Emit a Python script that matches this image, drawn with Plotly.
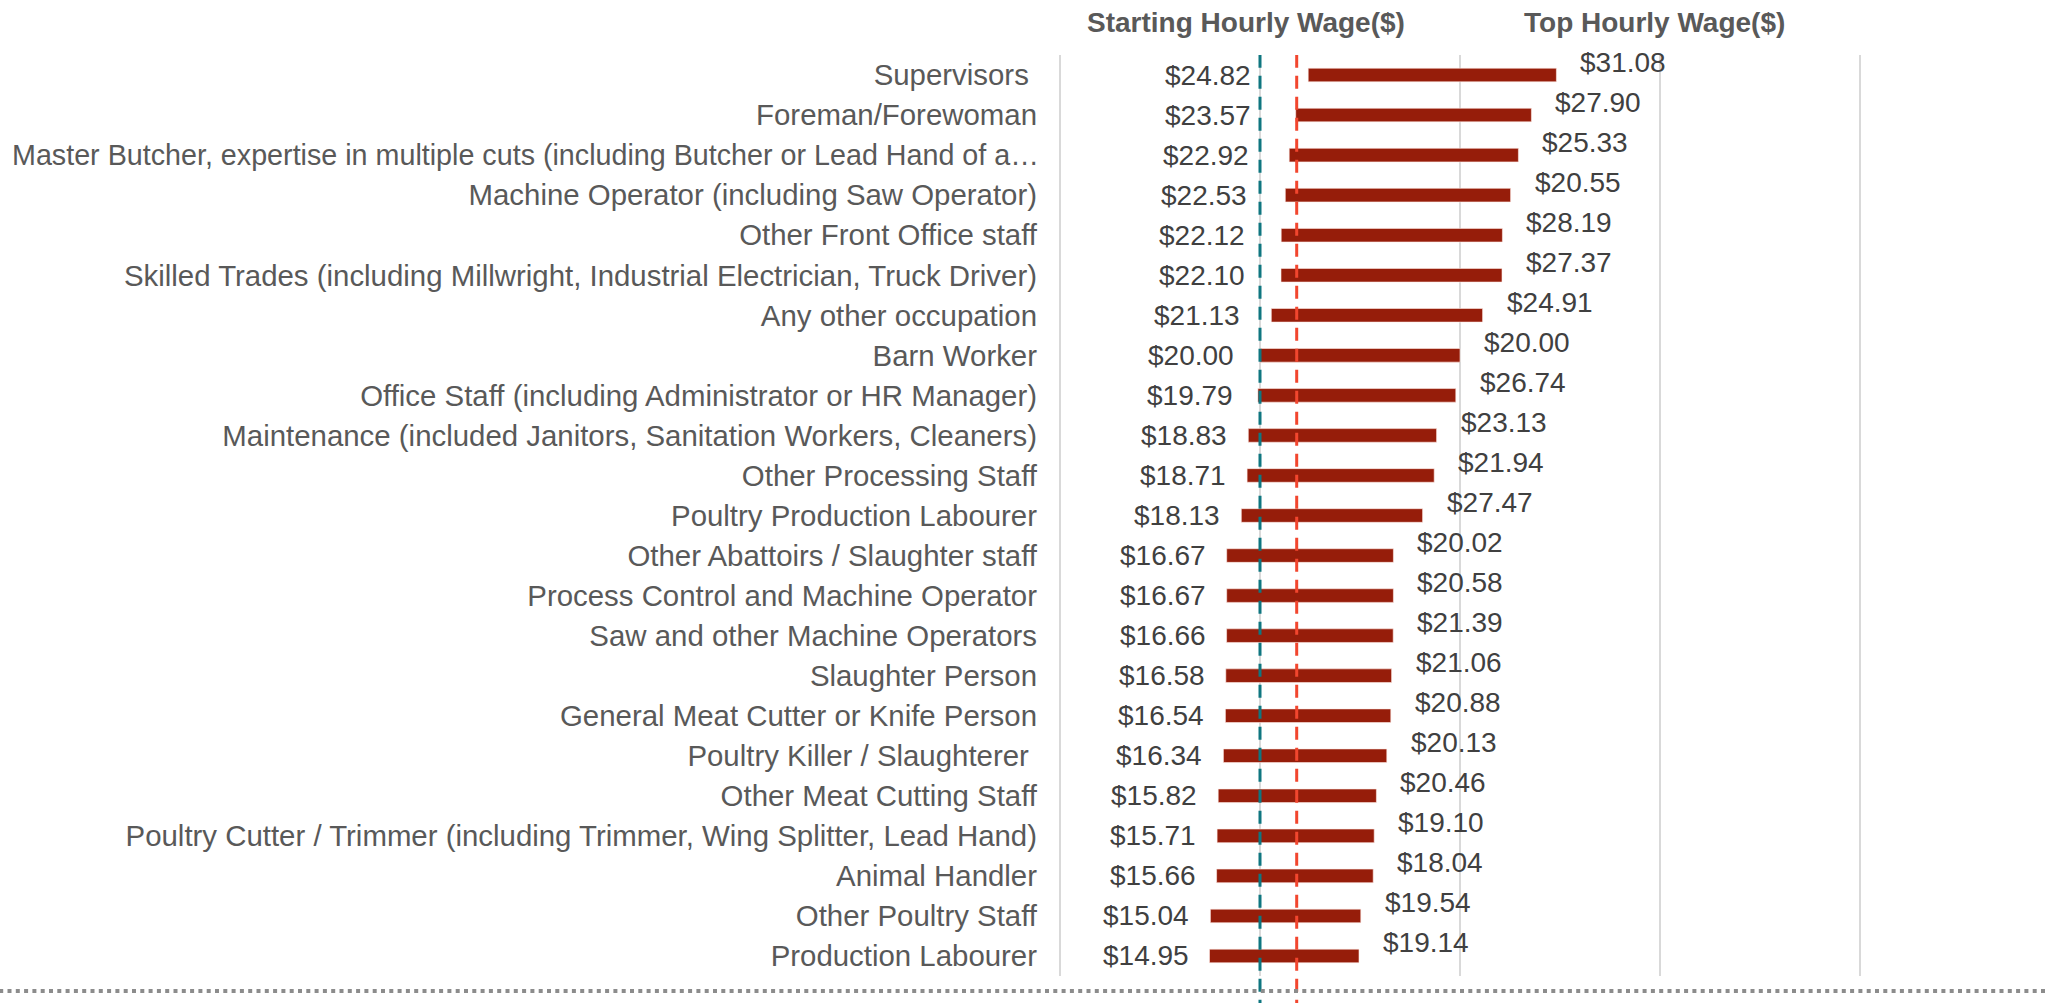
import plotly.graph_objects as go

# Occupations, top to bottom
occupations = [
    "Supervisors\u00a0",
    "Foreman/Forewoman",
    "Master Butcher, expertise in multiple cuts (including Butcher or Lead Hand of a\u2026",
    "Machine Operator (including Saw Operator)",
    "Other Front Office staff",
    "Skilled Trades (including Millwright, Industrial Electrician, Truck Driver)",
    "Any other occupation",
    "Barn Worker",
    "Office Staff (including Administrator or HR Manager)",
    "Maintenance (included Janitors, Sanitation Workers, Cleaners)",
    "Other Processing Staff",
    "Poultry Production Labourer",
    "Other Abattoirs / Slaughter staff",
    "Process Control and Machine Operator",
    "Saw and other Machine Operators",
    "Slaughter Person",
    "General Meat Cutter or Knife Person",
    "Poultry Killer / Slaughterer\u00a0",
    "Other Meat Cutting Staff",
    "Poultry Cutter / Trimmer (including Trimmer, Wing Splitter, Lead Hand)",
    "Animal Handler",
    "Other Poultry Staff",
    "Production Labourer",
]

starting_wage = [24.82, 23.57, 22.92, 22.53, 22.12, 22.10, 21.13, 20.00, 19.79, 18.83,
                 18.71, 18.13, 16.67, 16.67, 16.66, 16.58, 16.54, 16.34, 15.82, 15.71,
                 15.66, 15.04, 14.95]

top_wage = [31.08, 27.90, 25.33, 20.55, 28.19, 27.37, 24.91, 20.00, 26.74, 23.13,
            21.94, 27.47, 20.02, 20.58, 21.39, 21.06, 20.88, 20.13, 20.46, 19.10,
            18.04, 19.54, 19.14]

# Reference wage levels drawn as dashed verticals
starting_reference = 20.0
top_reference = 23.67

BAR_RED = "#961d0a"
TEXT_GREY = "#595959"
VALUE_GREY = "#404040"
FONT = "Liberation Sans, Arial, sans-serif"

# The over-long (truncated) occupation name is written as a free label so it
# can overhang the other right-aligned names slightly, as the truncated text does.
LONG_NAME = occupations[2]
tick_text = ["" if o == LONG_NAME else o for o in occupations]

fig = go.Figure()

# Each bar begins at the starting wage and spans the starting wage in length
fig.add_trace(go.Bar(
    y=occupations,
    x=starting_wage,
    base=starting_wage,
    orientation="h",
    marker=dict(color=BAR_RED, line=dict(color="rgba(255,235,230,0.6)", width=1)),
    hoverinfo="skip",
    showlegend=False,
))

annotations = []


def start_label_x(w):
    # starting-wage labels sit left of the bar, held back from the reference line
    return min(w - 1.9 - 0.5 * max(0.0, w - 19.0), 19.3)


for occ, s, t in zip(occupations, starting_wage, top_wage):
    annotations.append(dict(
        x=start_label_x(s), y=occ, xref="x", yref="y",
        text=f"${s:.2f}", showarrow=False, xanchor="right", yanchor="middle",
        font=dict(family=FONT, size=28, color=VALUE_GREY),
    ))
    annotations.append(dict(
        x=s + s, y=occ, xref="x", yref="y",
        text=f"${t:.2f}", showarrow=False, xanchor="left", yanchor="middle",
        xshift=22, yshift=13,
        font=dict(family=FONT, size=28, color=VALUE_GREY),
    ))

annotations.append(dict(
    x=0, y=LONG_NAME, xref="x", yref="y", text=LONG_NAME,
    showarrow=False, xanchor="right", yanchor="middle", xshift=-19,
    font=dict(family=FONT, size=28.7, color=TEXT_GREY),
))

# Column headers
annotations.append(dict(
    x=18.55, y=1.0358, xref="x", yref="paper", text="<b>Starting Hourly Wage($)</b>",
    showarrow=False, xanchor="center", yanchor="middle",
    font=dict(family=FONT, size=28, color=TEXT_GREY),
))
annotations.append(dict(
    x=59.4, y=1.0358, xref="x", yref="paper", text="<b>Top Hourly Wage($)</b>",
    showarrow=False, xanchor="center", yanchor="middle",
    font=dict(family=FONT, size=28, color=TEXT_GREY),
))

shapes = [
    dict(type="line", xref="x", yref="paper",
         x0=starting_reference, x1=starting_reference, y0=-0.04, y1=1.0,
         line=dict(color="#0f7680", width=3, dash="13px,8px")),
    dict(type="line", xref="x", yref="paper",
         x0=top_reference, x1=top_reference, y0=-0.04, y1=1.0,
         line=dict(color="#f2462e", width=3, dash="13px,8px")),
    dict(type="line", xref="paper", yref="paper",
         x0=-1.1, x1=1.1, y0=-0.0163, y1=-0.0163,
         line=dict(color="#8c8c8c", width=4, dash="4px,4.3px")),
]

fig.update_layout(
    width=2047, height=1003,
    margin=dict(l=1060, r=0, t=55, b=27, autoexpand=False),
    paper_bgcolor="white", plot_bgcolor="white",
    bargap=0.66,
    annotations=annotations,
    shapes=shapes,
    font=dict(family=FONT),
)

fig.update_xaxes(
    range=[0, 98.7], dtick=20, tick0=0,
    showgrid=True, gridcolor="#d9d9d9", gridwidth=2,
    zeroline=True, zerolinecolor="#d9d9d9", zerolinewidth=2,
    showticklabels=False, showline=False, fixedrange=True,
)
fig.update_yaxes(
    type="category",
    categoryorder="array", categoryarray=occupations,
    range=[len(occupations) - 0.5, -0.5],
    tickmode="array", tickvals=occupations, ticktext=tick_text,
    showgrid=False, showline=False, zeroline=False,
    ticks="", ticklabelstandoff=22,
    tickfont=dict(family=FONT, size=29.4, color=TEXT_GREY),
    fixedrange=True,
)

fig.write_html("out.html")
